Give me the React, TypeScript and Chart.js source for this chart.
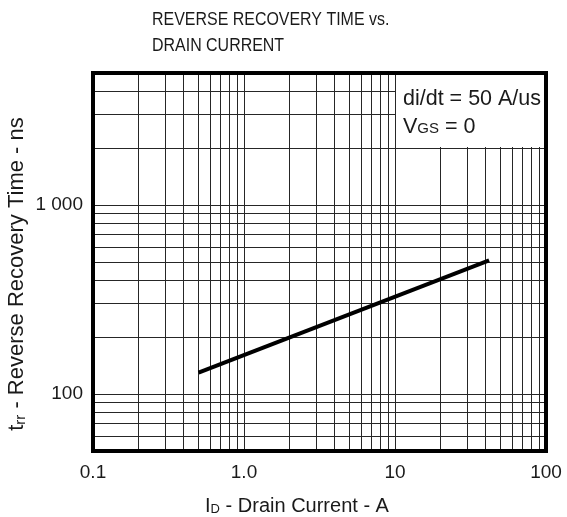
import React, { useEffect, useRef } from 'react';
import { Chart, registerables } from 'chart.js';

Chart.register(...registerables);

// ---- data ----
const drainCurrentA = [0.5, 42];
const recoveryTimeNs = [130, 510];

// grid lines (tick positions)
const xGridValues = [0.1, 0.2, 0.3, 0.4, 0.5, 0.6, 0.7, 0.8, 0.9, 1, 2, 3, 4, 5, 6, 7, 8, 9, 10, 20, 30, 40, 50, 60, 70, 80, 90, 100];
const yGridValues = [50, 60, 70, 80, 90, 100, 200, 300, 400, 500, 600, 700, 800, 900, 1000, 2000, 3000, 4000, 5000];

// tick labels
const xLabelValues = [0.1, 1, 10, 100];
const xLabelTexts = ['0.1', '1.0', '10', '100'];
const yLabelValues = [100, 1000];
const yLabelTexts = ['100', '1 000'];

// annotation box region (data coords)
const noteBoxX = [10, 100];
const noteBoxY = [2000, 5000];

const FONT = "'Liberation Sans', Arial, Helvetica, sans-serif";
const TEXT = '#1a1a1a';

function labelFor(values: number[], texts: string[], v: number): string {
  for (let i = 0; i < values.length; i++) {
    if (Math.abs(values[i] - v) / values[i] < 1e-6) return texts[i];
  }
  return '';
}

type Run = { t: string; size: number; dy?: number };

function runsWidth(ctx: CanvasRenderingContext2D, runs: Run[]) {
  let w = 0;
  for (const r of runs) {
    ctx.font = `${r.size}px ${FONT}`;
    w += ctx.measureText(r.t).width;
  }
  return w;
}

function drawRuns(ctx: CanvasRenderingContext2D, runs: Run[], x: number, y: number) {
  let cx = x;
  ctx.textBaseline = 'alphabetic';
  ctx.textAlign = 'left';
  for (const r of runs) {
    ctx.font = `${r.size}px ${FONT}`;
    ctx.fillText(r.t, cx, y + (r.dy || 0));
    cx += ctx.measureText(r.t).width;
  }
}

const decorPlugin = {
  id: 'decor',
  beforeDatasetsDraw(chart: any) {
    const { ctx, chartArea, scales } = chart;
    const xs = scales.x;
    const ys = scales.y;
    const x0 = Math.round(xs.getPixelForValue(noteBoxX[0])) + 1;
    const x1 = Math.round(xs.getPixelForValue(noteBoxX[1]));
    const y0 = Math.round(ys.getPixelForValue(noteBoxY[1]));
    const y1 = Math.round(ys.getPixelForValue(noteBoxY[0])) - 1;
    ctx.save();
    ctx.fillStyle = '#ffffff';
    ctx.fillRect(x0, y0, Math.min(x1, chartArea.right) - x0, y1 - y0);
    ctx.restore();
  },
  afterDraw(chart: any) {
    const { ctx, chartArea, scales } = chart;
    const xs = scales.x;
    const ys = scales.y;
    ctx.save();
    // frame
    ctx.strokeStyle = '#000';
    ctx.lineWidth = 4;
    ctx.strokeRect(chartArea.left, chartArea.top, chartArea.right - chartArea.left, chartArea.bottom - chartArea.top);

    ctx.fillStyle = TEXT;
    // chart title (condensed)
    ctx.save();
    ctx.translate(152, 25);
    ctx.scale(0.84, 1);
    ctx.font = `19px ${FONT}`;
    ctx.textBaseline = 'alphabetic';
    ctx.textAlign = 'left';
    ctx.fillText('REVERSE RECOVERY TIME vs.', 0, 0);
    ctx.fillText('DRAIN CURRENT', 0, 26);
    ctx.restore();

    // annotation
    const ax = xs.getPixelForValue(noteBoxX[0]) + 8;
    const ay = ys.getPixelForValue(noteBoxY[1]);
    drawRuns(ctx, [{ t: 'di/dt = 50 A/us', size: 21.5 }], ax, ay + 32);
    drawRuns(ctx, [{ t: 'V', size: 21.5 }, { t: 'GS', size: 15, dy: 0 }, { t: ' = 0', size: 21.5 }], ax, ay + 60);

    // x axis title
    const xRuns: Run[] = [{ t: 'I', size: 20 }, { t: 'D', size: 13, dy: 1 }, { t: ' - Drain Current - A', size: 20 }];
    const xw = runsWidth(ctx, xRuns);
    const xc = chartArea.left + 204;
    drawRuns(ctx, xRuns, xc - xw / 2, 512);

    // y axis title (rotated)
    const yRuns: Run[] = [{ t: 't', size: 22 }, { t: 'rr', size: 15, dy: 2 }, { t: ' - Reverse Recovery Time - ns', size: 22 }];
    const yw = runsWidth(ctx, yRuns);
    ctx.save();
    ctx.translate(23, 274);
    ctx.rotate(-Math.PI / 2);
    drawRuns(ctx, yRuns, -yw / 2, 0);
    ctx.restore();

    ctx.restore();
  },
};

export default function App() {
  const canvasRef = useRef<HTMLCanvasElement | null>(null);

  useEffect(() => {
    const canvas = canvasRef.current;
    if (!canvas) return;
    const chart = new Chart(canvas, {
      type: 'line',
      data: {
        datasets: [
          {
            data: drainCurrentA.map((x, i) => ({ x, y: recoveryTimeNs[i] })),
            borderColor: '#000',
            borderWidth: 4,
            pointRadius: 0,
            tension: 0,
            fill: false,
          },
        ],
      },
      options: {
        responsive: false,
        animation: false,
        devicePixelRatio: 1,
        layout: { padding: { left: 0, top: 73, right: 21, bottom: 6 } },
        plugins: {
          legend: { display: false },
          tooltip: { enabled: false },
          title: { display: false },
        },
        scales: {
          x: {
            type: 'logarithmic',
            min: 0.1,
            max: 100,
            afterBuildTicks: (s: any) => {
              s.ticks = xGridValues.map((v) => ({ value: v }));
            },
            afterFit: (s: any) => {
              s.height = 60;
              s.paddingLeft = 0;
              s.paddingRight = 0;
            },
            ticks: {
              autoSkip: false,
              maxRotation: 0,
              minRotation: 0,
              padding: 10,
              color: TEXT,
              font: { family: FONT, size: 19 },
              callback: (_v: any, i: number, ticks: any[]) => labelFor(xLabelValues, xLabelTexts, ticks[i].value),
            },
            grid: { color: '#262626', lineWidth: 1, drawTicks: false },
            border: { display: false },
          },
          y: {
            type: 'logarithmic',
            min: 50,
            max: 5000,
            afterBuildTicks: (s: any) => {
              s.ticks = yGridValues.map((v) => ({ value: v }));
            },
            afterFit: (s: any) => {
              s.width = 93;
              s.paddingTop = 0;
              s.paddingBottom = 0;
            },
            ticks: {
              autoSkip: false,
              padding: 10,
              color: TEXT,
              font: { family: FONT, size: 19 },
              callback: (_v: any, i: number, ticks: any[]) => labelFor(yLabelValues, yLabelTexts, ticks[i].value),
            },
            grid: { color: '#262626', lineWidth: 1, drawTicks: false },
            border: { display: false },
          },
        },
      },
      plugins: [decorPlugin],
    } as any);
    return () => chart.destroy();
  }, []);

  return (
    <div style={{ position: 'absolute', left: 0, top: 0, width: 567, height: 517, background: '#fff' }}>
      <canvas ref={canvasRef} width={567} height={517} style={{ display: 'block', width: 567, height: 517 }} />
    </div>
  );
}
